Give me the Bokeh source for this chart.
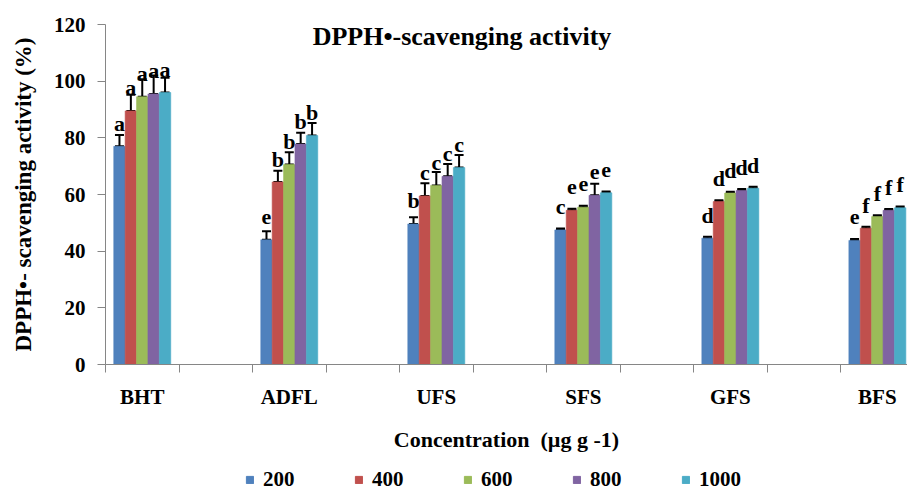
from bokeh.plotting import figure
from bokeh.layouts import column
from bokeh.models import (ColumnDataSource, Whisker, TeeHead, FixedTicker, Legend,
                          LegendItem, Label, Range1d)
from bokeh.core.properties import value
from bokeh.embed import file_html
from bokeh.resources import INLINE

samples = ["BHT", "ADFL", "UFS", "SFS", "GFS", "BFS"]
concentrations = ["200", "400", "600", "800", "1000"]
colors = ["#4F81BD", "#C0504D", "#9BBB59", "#8064A2", "#4BACC6"]

act_200 = [77.0, 44.0, 49.6, 47.5, 44.6, 43.8]
act_400 = [89.5, 64.4, 59.5, 54.4, 57.5, 48.1]
act_600 = [94.5, 70.6, 63.2, 55.5, 60.5, 52.2]
act_800 = [95.5, 77.8, 66.4, 59.7, 61.4, 54.4]
act_1000 = [96.0, 80.8, 69.5, 60.6, 62.2, 55.3]

err_200 = [4.0, 3.0, 2.4, 0.5, 0.5, 0.5]
err_400 = [5.7, 4.0, 4.5, 0.6, 0.5, 0.5]
err_600 = [6.2, 4.3, 4.7, 0.5, 0.5, 0.5]
err_800 = [6.5, 4.0, 4.4, 4.1, 0.5, 0.5]
err_1000 = [5.2, 4.4, 4.4, 0.5, 0.5, 0.5]

let_200 = ["a", "e", "b", "c", "d", "e"]
let_400 = ["a", "b", "c", "e", "d", "f"]
let_600 = ["a", "b", "c", "e", "d", "f"]
let_800 = ["a", "b", "c", "e", "d", "f"]
let_1000 = ["a", "b", "c", "e", "d", "f"]

y_ticks = [0, 20, 40, 60, 80, 100, 120]

series = [
    (act_200, err_200, let_200),
    (act_400, err_400, let_400),
    (act_600, err_600, let_600),
    (act_800, err_800, let_800),
    (act_1000, err_1000, let_1000),
]

FONT = "Liberation Serif"
AXIS_GRAY = "#868686"

p = figure(frame_width=802, frame_height=340, output_backend="svg", toolbar_location=None,
           x_range=Range1d(-0.5, 10.41), y_range=Range1d(0, 120),
           min_border_left=105, min_border_top=24, min_border_right=0,
           min_border_bottom=101)
p.outline_line_color = None
p.xgrid.visible = False
p.ygrid.visible = False
p.background_fill_color = "white"
p.border_fill_color = "white"

bar_w = 0.155
centers = [2 * i for i in range(len(samples))]
for j, (vals, errs, lets) in enumerate(series):
    off = (j - 2) * bar_w
    src = ColumnDataSource(dict(
        x=[c + off for c in centers],
        v=vals,
        top=[v + e for v, e in zip(vals, errs)],
        lab=lets,
    ))
    p.vbar(x="x", top="v", bottom=0, width=bar_w, source=src,
           fill_color=colors[j], line_color=colors[j], line_alpha=0.6)
    w = Whisker(base="x", lower="v", upper="top", source=src,
                line_color="black", line_width=2,
                upper_head=TeeHead(size=9, line_width=2, line_color="black"),
                lower_head=TeeHead(size=9, line_width=2, line_color="black"))
    p.add_layout(w)
    p.text(x="x", y="v", text="lab", source=src, y_offset=-23,
           text_align="center", text_baseline="alphabetic",
           text_font=value(FONT), text_font_style="bold",
           text_font_size="22px", text_color="black")

# axes
p.yaxis.ticker = FixedTicker(ticks=y_ticks)
p.yaxis.minor_tick_line_color = None
p.yaxis.major_tick_out = 8
p.yaxis.major_tick_in = 0
p.yaxis.major_label_standoff = 12
p.yaxis.axis_line_color = AXIS_GRAY
p.yaxis.major_tick_line_color = AXIS_GRAY
p.yaxis.major_label_text_font = FONT
p.yaxis.major_label_text_font_style = "bold"
p.yaxis.major_label_text_font_size = "21px"
p.yaxis.major_label_text_color = "black"
p.yaxis.axis_label = "DPPH\u2022- scavenging activity (%)"
p.yaxis.axis_label_text_font = FONT
p.yaxis.axis_label_text_font_style = "bold"
p.yaxis.axis_label_text_font_size = "23px"
p.yaxis.axis_label_text_color = "black"
p.yaxis.axis_label_standoff = 15

p.xaxis.ticker = FixedTicker(ticks=centers,
                             minor_ticks=[b - 0.5 for b in range(0, 12)])
p.xaxis.major_label_overrides = {c: s for c, s in zip(centers, samples)}
p.xaxis.major_tick_line_color = None
p.xaxis.major_tick_out = 0
p.xaxis.major_tick_in = 0
p.xaxis.minor_tick_out = 8
p.xaxis.minor_tick_in = 0
p.xaxis.minor_tick_line_color = AXIS_GRAY
p.xaxis.axis_line_color = AXIS_GRAY
p.xaxis.major_label_standoff = 12
p.xaxis.major_label_text_font = FONT
p.xaxis.major_label_text_font_style = "bold"
p.xaxis.major_label_text_font_size = "21px"
p.xaxis.major_label_text_color = "black"
p.xaxis.axis_label = "Concentration\u00a0\u00a0(\u00b5g g -1)"
p.xaxis.axis_label_text_font = FONT
p.xaxis.axis_label_text_font_style = "bold"
p.xaxis.axis_label_text_font_size = "22px"
p.xaxis.axis_label_text_color = "black"
p.xaxis.axis_label_standoff = 15

title = Label(x=4.35, y=115.8, text="DPPH\u2022-scavenging activity",
              text_align="center", text_baseline="middle",
              text_font=FONT, text_font_style="bold",
              text_font_size="26px", text_color="black")
p.add_layout(title)

# legend strip below the chart (swatch renderers sit outside the strip's view)
lg = figure(width=907, height=27, output_backend="svg", toolbar_location=None,
            x_range=Range1d(0, 1), y_range=Range1d(0, 1), min_border=0)
lg.outline_line_color = None
lg.axis.visible = False
lg.grid.visible = False
lg.border_fill_color = "white"
items = []
for j, name in enumerate(concentrations):
    r = lg.quad(left=[-6], right=[-5], top=[-5], bottom=[-6],
                fill_color=colors[j], line_color=colors[j])
    items.append(LegendItem(label=name, renderers=[r]))
legend = Legend(items=items, orientation="horizontal", location=(140, 0),
                glyph_width=9, glyph_height=9, label_standoff=9,
                label_width=83, label_height=16, spacing=8, padding=0, margin=0,
                label_text_font=FONT, label_text_font_style="bold",
                label_text_font_size="21px", label_text_color="black",
                border_line_color=None, background_fill_alpha=0)
lg.add_layout(legend, "center")

layout = column(p, lg, spacing=0)
open("out.html", "w").write(file_html(layout, INLINE))
